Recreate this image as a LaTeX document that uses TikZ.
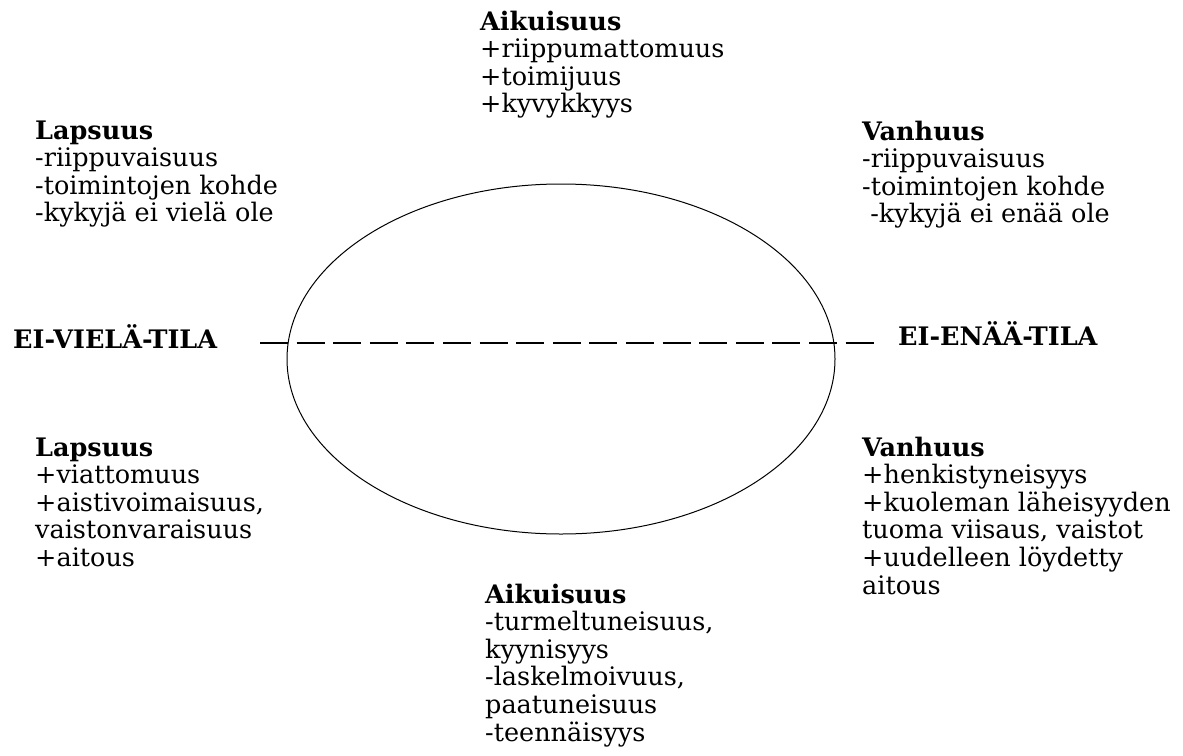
\documentclass[tikz,border=0pt]{standalone}
\usepackage{fontspec}
\setmainfont{DejaVu Serif}
\usetikzlibrary{shapes.geometric}
\newcommand\mystack[1]{\begin{tabular}[t]{@{}l@{}}#1\end{tabular}}
\begin{document}
\begin{tikzpicture}[x=1pt,y=-1pt,
  txt/.style={anchor=base west, inner sep=0pt, font=\fontsize{25.5}{27.5}\selectfont},
  lbl/.style={anchor=base west, inner sep=0pt, font=\fontsize{25.5}{27.5}\selectfont\bfseries},
  egg/.style={draw, ellipse, line width=1pt, inner sep=0pt},
  dashline/.style={line width=2pt, dash pattern=on 28pt off 8.6pt}]
\useasboundingbox (0,0) rectangle (1183,755);
\node[egg, minimum width=548pt, minimum height=350pt] (oval) at (561,359) {};
\coordinate (dl) at (260,343);
\coordinate (dr) at (874,343);
\draw[dashline] (dl) -- (dr);

\node[txt] (aiktop) at (480,30) {\mystack{\textbf{Aikuisuus}\\+riippumattomuus\\+toimijuus\\+kyvykkyys}};
\node[txt] (laptop) at (35,139) {\mystack{\textbf{Lapsuus}\\-riippuvaisuus\\-toimintojen kohde\\-kykyjä ei vielä ole}};
\node[txt] (vantop) at (862,140) {\mystack{\textbf{Vanhuus}\\-riippuvaisuus\\-toimintojen kohde\\\ -kykyjä ei enää ole}};
\node[lbl] (eiviela) at (13,348) {EI-VIELÄ-TILA};
\node[lbl] (eienaa) at (898,345) {EI-ENÄÄ-TILA};
\node[txt] (lapbot) at (35,456) {\mystack{\textbf{Lapsuus}\\+viattomuus\\+aistivoimaisuus,\\vaistonvaraisuus\\+aitous}};
\node[txt] (vanbot) at (862,456) {\mystack{\textbf{Vanhuus}\\+henkistyneisyys\\+kuoleman läheisyyden\\tuoma viisaus, vaistot\\+uudelleen löydetty\\aitous}};
\node[txt] (aikbot) at (485,603) {\mystack{\textbf{Aikuisuus}\\-turmeltuneisuus,\\kyynisyys\\-laskelmoivuus,\\paatuneisuus\\-teennäisyys}};
\end{tikzpicture}
\end{document}
